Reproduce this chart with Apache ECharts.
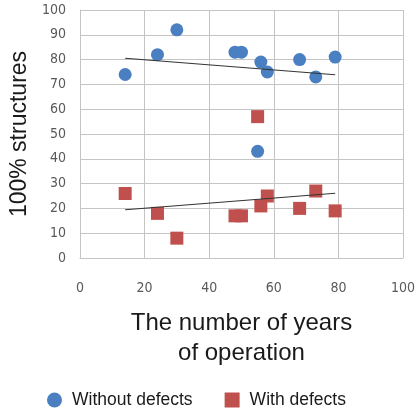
<!DOCTYPE html>
<html><head><meta charset="utf-8">
<script src="https://cdn.jsdelivr.net/npm/echarts@6/dist/echarts.min.js"></script>
<style>html,body{margin:0;padding:0;background:#fff}#c{width:419px;height:408px}</style>
</head><body><div id="c"></div>
<script>
const years = [14, 24, 30, 48, 50, 56, 58, 68, 73, 79, 55];
const withoutDefects = [74, 82, 92, 83, 83, 79, 75, 80, 73, 81, 43];
const withDefects = [26, 18, 8, 17, 17, 21, 25, 20, 27, 19, 57];
const xTicks = [0, 20, 40, 60, 80, 100];
const yTicks = [0, 10, 20, 30, 40, 50, 60, 70, 80, 90, 100];

function pairs(xs, ys) { return xs.map((x, i) => [x, ys[i]]); }
function trend(xs, ys) {
  const n = xs.length;
  const mx = xs.reduce((a, b) => a + b, 0) / n, my = ys.reduce((a, b) => a + b, 0) / n;
  let sxy = 0, sxx = 0;
  for (let i = 0; i < n; i++) { sxy += (xs[i] - mx) * (ys[i] - my); sxx += (xs[i] - mx) ** 2; }
  const b = sxy / sxx, a = my - b * mx;
  const x0 = Math.min(...xs), x1 = Math.max(...xs);
  return [[x0, a + b * x0], [x1, a + b * x1]];
}
const chart = echarts.init(document.getElementById('c'));
const labelFont = {color: '#595959', fontSize: 14, fontFamily: 'Liberation Sans Narrow, DejaVu Sans Condensed, sans-serif'};
const gridColor = '#c4c4c4';
chart.setOption({
  animation: false,
  grid: {left: 77, right: 16, top: 10, bottom: 150},
  xAxis: {
    type: 'value', min: xTicks[0], max: xTicks[xTicks.length - 1], interval: 20,
    axisLine: {show: true, lineStyle: {color: gridColor}}, axisTick: {show: false},
    axisLabel: Object.assign({margin: 23}, labelFont),
    splitLine: {show: true, lineStyle: {color: gridColor}},
    name: 'The number of years\nof operation', nameLocation: 'middle', nameGap: 50,
    nameTextStyle: {fontSize: 24, color: '#1a1a1a', fontFamily: 'Liberation Sans, Arial, sans-serif', lineHeight: 30}
  },
  yAxis: {
    type: 'value', min: yTicks[0], max: yTicks[yTicks.length - 1], interval: 10,
    axisLine: {show: true, lineStyle: {color: gridColor}}, axisTick: {show: false},
    axisLabel: Object.assign({margin: 14}, labelFont),
    splitLine: {show: true, lineStyle: {color: gridColor}},
    name: '100% structures', nameLocation: 'middle', nameGap: 45,
    nameTextStyle: {fontSize: 23, color: '#1a1a1a', fontFamily: 'Liberation Sans, Arial, sans-serif'}
  },
  legend: {
    top: 386, left: 42, itemGap: 32, itemWidth: 15, itemHeight: 15,
    textStyle: {fontSize: 17.5, color: '#1a1a1a', fontFamily: 'Liberation Sans, Arial, sans-serif', padding: [0, 0, 0, 5]},
    data: [{name: 'Without defects', icon: 'circle'}, {name: 'With defects', icon: 'rect'}]
  },
  series: [
    {name: 'Without defects', type: 'scatter', symbol: 'circle', symbolSize: 13,
     itemStyle: {color: '#4a7fc1', opacity: 1}, data: pairs(years, withoutDefects), z: 3},
    {name: 'With defects', type: 'scatter', symbol: 'rect', symbolSize: 13,
     itemStyle: {color: '#c0504d', opacity: 1}, data: pairs(years, withDefects), z: 3},
    {name: 'trend1', type: 'line', data: trend(years, withoutDefects), symbol: 'none',
     lineStyle: {color: '#333', width: 1.2}, z: 4, silent: true},
    {name: 'trend2', type: 'line', data: trend(years, withDefects), symbol: 'none',
     lineStyle: {color: '#333', width: 1.2}, z: 4, silent: true}
  ]
});
</script></body></html>
